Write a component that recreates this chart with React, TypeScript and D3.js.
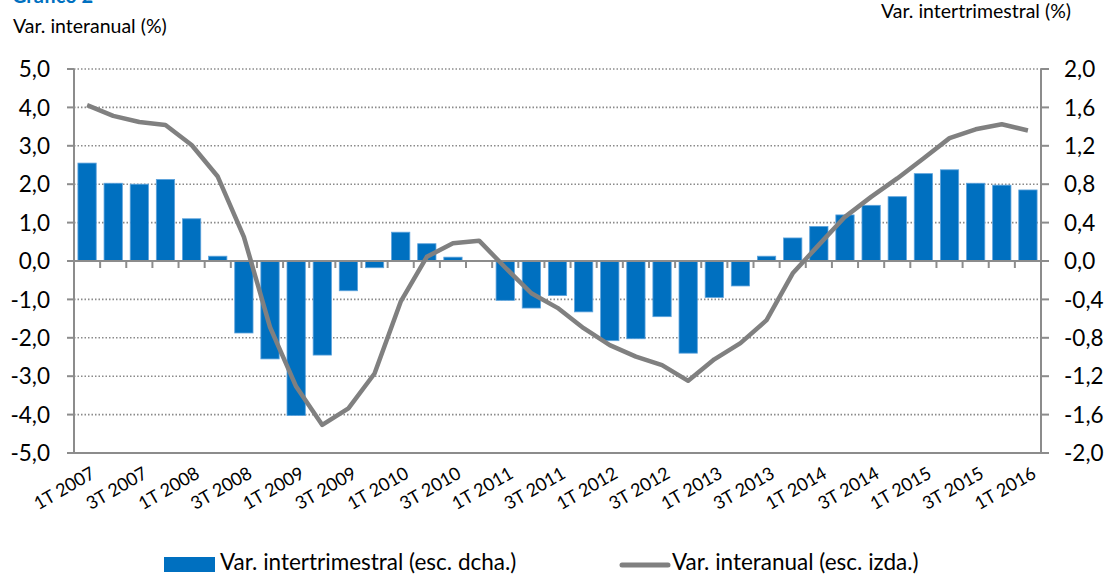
import * as d3 from 'd3'
import { useEffect, useRef } from 'react'

const quarters = [
  '1T 2007', '2T 2007', '3T 2007', '4T 2007',
  '1T 2008', '2T 2008', '3T 2008', '4T 2008',
  '1T 2009', '2T 2009', '3T 2009', '4T 2009',
  '1T 2010', '2T 2010', '3T 2010', '4T 2010',
  '1T 2011', '2T 2011', '3T 2011', '4T 2011',
  '1T 2012', '2T 2012', '3T 2012', '4T 2012',
  '1T 2013', '2T 2013', '3T 2013', '4T 2013',
  '1T 2014', '2T 2014', '3T 2014', '4T 2014',
  '1T 2015', '2T 2015', '3T 2015', '4T 2015',
  '1T 2016',
]

// quarter on quarter (right axis)
const interTrimestral = [
  1.02, 0.81, 0.80, 0.85, 0.44, 0.05, -0.75, -1.02,
  -1.61, -0.98, -0.31, -0.07, 0.30, 0.18, 0.04, 0.0,
  -0.41, -0.49, -0.36, -0.53, -0.83, -0.81, -0.58, -0.96,
  -0.38, -0.26, 0.05, 0.24, 0.36, 0.48, 0.58, 0.67,
  0.91, 0.95, 0.81, 0.79, 0.74,
]

// year on year (left axis)
const interAnual = [
  4.06, 3.78, 3.62, 3.54, 3.02, 2.2, 0.63, -1.72,
  -3.27, -4.27, -3.84, -2.93, -1.06, 0.11, 0.46, 0.53,
  -0.17, -0.84, -1.22, -1.75, -2.19, -2.49, -2.71, -3.12,
  -2.56, -2.14, -1.54, -0.32, 0.42, 1.15, 1.67, 2.15,
  2.67, 3.2, 3.43, 3.56, 3.4,
]

const leftTicks = [5, 4, 3, 2, 1, 0, -1, -2, -3, -4, -5]
const rightTicks = [2, 1.6, 1.2, 0.8, 0.4, 0, -0.4, -0.8, -1.2, -1.6, -2]

const BLUE = '#0070C0'
const GREY = '#808080'
const AXIS = '#8c8c8c'
const FONT = 'Lato, "Open Sans", sans-serif'

export default function App() {
  const svgRef = useRef<SVGSVGElement>(null)

  useEffect(() => {
    drawChart()
  }, [])

  function drawChart() {
    const width = 1110
    const height = 576
    const left = 74, right = 1041, top = 69, bottom = 453

    const svg = d3.select(svgRef.current).attr('width', width).attr('height', height)
    svg.selectAll('*').remove()

    const x = d3.scaleBand<number>()
      .domain(d3.range(quarters.length))
      .range([left, right])
      .paddingInner(0.3)
      .paddingOuter(0.15)
    const step = (right - left) / quarters.length
    const cx = (i: number) => left + step * (i + 0.5)

    const yL = d3.scaleLinear().domain([-5, 5]).range([bottom, top])
    const yR = d3.scaleLinear().domain([-2, 2]).range([bottom, top])
    const fmt = (v: number) => d3.format('.1f')(v).replace('.', ',').replace('−', '-')

    // title fragment, cut by the top edge as in the source
    svg.append('text')
      .attr('x', 12).attr('y', 3)
      .attr('font-family', FONT).attr('font-weight', 'bold')
      .attr('font-size', 20).attr('fill', BLUE)
      .text('Gráfico 2')

    // grid
    svg.append('g').selectAll('line')
      .data(leftTicks.filter(d => d !== 0 && d !== -5))
      .enter().append('line')
      .attr('x1', left).attr('x2', right)
      .attr('y1', d => yL(d)).attr('y2', d => yL(d))
      .attr('stroke', '#8a8a8a').attr('stroke-width', 1.6)
      .attr('stroke-dasharray', '1.5 2')

    // bars
    svg.append('g').selectAll('rect')
      .data(interTrimestral)
      .enter().append('rect')
      .attr('x', (d, i) => x(i)!)
      .attr('width', x.bandwidth())
      .attr('y', d => Math.min(yR(d), yR(0)))
      .attr('height', d => Math.abs(yR(d) - yR(0)))
      .attr('fill', BLUE)
      .attr('stroke', '#5ea3dc').attr('stroke-width', 0.8)

    // axes
    const ax = svg.append('g').attr('stroke', AXIS).attr('stroke-width', 2)
    ax.append('line').attr('x1', left).attr('x2', left).attr('y1', top).attr('y2', bottom)
    ax.append('line').attr('x1', right).attr('x2', right).attr('y1', top).attr('y2', bottom)
    ax.append('line').attr('x1', left).attr('x2', right).attr('y1', bottom).attr('y2', bottom)
    ax.append('line').attr('x1', left).attr('x2', right).attr('y1', yL(0)).attr('y2', yL(0))
    ax.selectAll('.tl').data(leftTicks).enter().append('line')
      .attr('x1', left - 7).attr('x2', left).attr('y1', d => yL(d)).attr('y2', d => yL(d))
    ax.selectAll('.tr').data(rightTicks).enter().append('line')
      .attr('x1', right).attr('x2', right + 8).attr('y1', d => yR(d)).attr('y2', d => yR(d))
    ax.selectAll('.tx').data(d3.range(1, quarters.length)).enter().append('line')
      .attr('x1', i => left + step * i).attr('x2', i => left + step * i)
      .attr('y1', yL(0)).attr('y2', yL(0) + 7)

    // tick labels
    svg.append('g').selectAll('text').data(leftTicks).enter().append('text')
      .attr('x', 50).attr('y', d => yL(d)).attr('dy', '0.36em')
      .attr('text-anchor', 'end')
      .attr('font-family', FONT).attr('font-size', 22.5).attr('fill', '#000')
      .text(d => fmt(d))
    svg.append('g').selectAll('text').data(rightTicks).enter().append('text')
      .attr('x', 1064).attr('y', d => yR(d)).attr('dy', '0.36em')
      .attr('font-family', FONT).attr('font-size', 22.5).attr('fill', '#000')
      .text(d => fmt(d))

    svg.append('g').selectAll('text')
      .data(quarters.map((q, i) => ({ q, i })).filter(d => d.i % 2 === 0))
      .enter().append('text')
      .attr('transform', d => `translate(${cx(d.i) + 3},${466}) rotate(-30)`)
      .attr('text-anchor', 'end').attr('dy', '0.7em')
      .attr('font-family', FONT).attr('font-size', 18).attr('fill', '#000')
      .text(d => d.q)

    // axis titles
    svg.append('text').attr('x', 13).attr('y', 33)
      .attr('font-family', FONT).attr('font-size', 19.5).attr('fill', '#000')
      .text('Var. interanual (%)')
    svg.append('text').attr('x', 1071).attr('y', 18).attr('text-anchor', 'end')
      .attr('font-family', FONT).attr('font-size', 19.5).attr('fill', '#000')
      .text('Var. intertrimestral (%)')

    // line
    const line = d3.line<number>()
      .x((d, i) => cx(i))
      .y(d => yL(d))
    svg.append('path')
      .datum(interAnual)
      .attr('d', line)
      .attr('fill', 'none')
      .attr('stroke', GREY)
      .attr('stroke-width', 4.5)
      .attr('stroke-linejoin', 'round')

    // legend
    const lg = svg.append('g').attr('font-family', FONT).attr('font-size', 22.5).attr('fill', '#000')
    lg.append('rect').attr('x', 164).attr('y', 557).attr('width', 51).attr('height', 15).attr('fill', BLUE)
    lg.append('text').attr('x', 220).attr('y', 570).text('Var. intertrimestral (esc. dcha.)')
    lg.append('line').attr('x1', 622).attr('x2', 668).attr('y1', 565).attr('y2', 565)
      .attr('stroke', GREY).attr('stroke-width', 5).attr('stroke-linecap', 'round')
    lg.append('text').attr('x', 672).attr('y', 570).text('Var. interanual (esc. izda.)')
  }

  return (
    <svg ref={svgRef} style={{ position: 'absolute', left: 0, top: 0, display: 'block' }}></svg>
  )
}
